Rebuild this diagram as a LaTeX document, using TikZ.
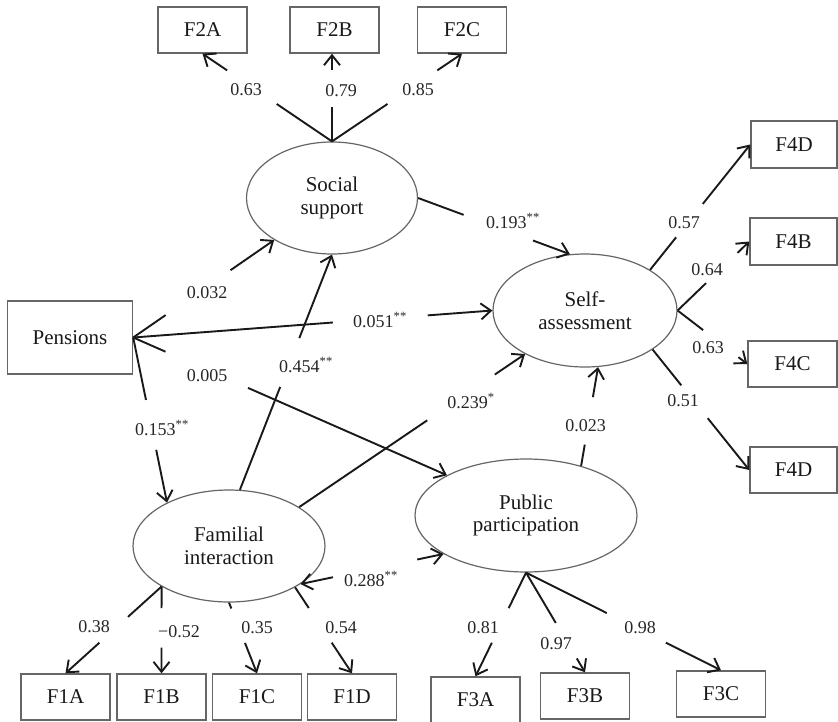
\documentclass[tikz,border=0pt]{standalone}
\usepackage{fontspec}
\setmainfont{Liberation Serif}
\usetikzlibrary{shapes.geometric,arrows.meta,calc}
\newcommand{\gapconn}[4]{%
  \draw[edge] (#1) -- ($(#1)!#3!(#2)$);
  \draw[edge,arr] ($(#1)!#4!(#2)$) -- (#2);}
\begin{document}
\begin{tikzpicture}[x=1pt,y=-1pt,
  box/.style={draw=black!60, line width=1.4pt, rectangle, minimum width=89pt, minimum height=46pt, inner sep=0pt, font=\fontsize{21}{23}\selectfont, text=black!90},
  latent/.style={draw=black!60, line width=1.2pt, ellipse, inner sep=0pt, align=center, font=\fontsize{21}{22.5}\selectfont, text=black!90},
  edge/.style={line width=1.9pt, draw=black!90},
  arr/.style={-{Straight Barb[length=10pt,width=16pt]}},
  arrback/.style={{Straight Barb[length=10pt,width=16pt]}-},
  lab/.style={font=\fontsize{18}{20}\selectfont, text=black!85, inner sep=0pt, anchor=base}]
\fill[white] (0,0) rectangle (838,721);
\useasboundingbox (0,0) rectangle (838,721);
% indicator boxes
\node[box] (f2a) at (202.5,30) {F2A};
\node[box] (f2b) at (334.5,30) {F2B};
\node[box] (f2c) at (462,30) {F2C};
\node[box, minimum width=125pt, minimum height=73pt] (pens) at (70,337.5) {Pensions};
\node[box, minimum width=86pt, minimum height=47pt] (f4d1) at (794,144.5) {F4D};
\node[box, minimum width=87pt, minimum height=47pt] (f4b) at (793.5,241.5) {F4B};
\node[box, minimum width=89pt, minimum height=46pt] (f4c) at (792.5,364) {F4C};
\node[box, minimum width=87pt, minimum height=46pt] (f4d2) at (793.5,470) {F4D};
\node[box] (f1a) at (65.5,697) {F1A};
\node[box] (f1b) at (161.5,697) {F1B};
\node[box] (f1c) at (257,697) {F1C};
\node[box] (f1d) at (352,697) {F1D};
\node[box] (f3a) at (475.5,700) {F3A};
\node[box] (f3b) at (585,696) {F3B};
\node[box] (f3c) at (721,694) {F3C};
% latent variables
\node[latent, minimum width=171pt, minimum height=112pt] (ss) at (332,198) {Social\\support};
\node[latent, minimum width=184pt, minimum height=113pt] (sa) at (585,310.5) {Self-\\assessment};
\node[latent, minimum width=222pt, minimum height=113pt] (pp) at (526,515.5) {Public\\participation};
\node[latent, minimum width=192pt, minimum height=112pt] (fam) at (229,546) {Familial\\interaction};
\coordinate (f2bs) at (ss.north |- f2b.south);
% connectors
\gapconn{ss.north}{f2a.south}{0.427}{0.81}
\gapconn{ss.north}{f2bs}{0.39}{0.81}
\gapconn{ss.north}{f2c.south}{0.427}{0.81}
\gapconn{pens.east}{ss.216}{0.23}{0.69}
\gapconn{pens.east}{sa.west}{0.556}{0.82}
\gapconn{pens.east}{pp.153}{0.103}{0.366}
\gapconn{pens.east}{fam.145}{0.378}{0.68}
\gapconn{ss.east}{sa.105}{0.30}{0.757}
\gapconn{fam.79}{ss.south}{0.437}{0.645}
\gapconn{fam.29}{sa.216}{0.567}{0.866}
\gapconn{pp.42}{sa.283}{0.215}{0.695}
\draw[edge,arrback] (fam.332) -- ($(fam.332)!0.227!(pp.205)$);
\draw[edge,arr] ($(fam.332)!0.816!(pp.205)$) -- (pp.205);
\gapconn{sa.32}{f4d1.west}{0.26}{0.526}
\gapconn{sa.east}{f4b.west}{0.397}{0.836}
\gapconn{sa.east}{f4c.west}{0.366}{0.873}
\gapconn{sa.330}{f4d2.west}{0.297}{0.57}
\gapconn{fam.211}{f1a.north}{0.35}{0.647}
\gapconn{fam.211}{f1b.north}{0.248}{0.704}
\gapconn{fam.south}{f1c.north}{0.083}{0.57}
\gapconn{fam.328}{f1d.north}{0.241}{0.644}
\gapconn{pp.south}{f3a.north}{0.343}{0.676}
\gapconn{pp.south}{f3b.north}{0.505}{0.861}
\gapconn{pp.south}{f3c.north}{0.414}{0.717}
% labels
\node[lab] (l1) at (246,95) {0.63};
\node[lab] (l2) at (341,96) {0.79};
\node[lab] (l3) at (418,95) {0.85};
\node[lab] (l4) at (207,298) {0.032};
\node[lab] (l5) at (380,327) {0.051\textsuperscript{**}};
\node[lab] (l6) at (207,381) {0.005};
\node[lab] (l7) at (162,435) {0.153\textsuperscript{**}};
\node[lab] (l8) at (513,228) {0.193\textsuperscript{**}};
\node[lab] (l9) at (306,372) {0.454\textsuperscript{**}};
\node[lab] (l10) at (471,408) {0.239\textsuperscript{*}};
\node[lab] (l11) at (585.5,431) {0.023};
\node[lab] (l12) at (371,586) {0.288\textsuperscript{**}};
\node[lab] (l13) at (684,228) {0.57};
\node[lab] (l14) at (707,275) {0.64};
\node[lab] (l15) at (708,353) {0.63};
\node[lab] (l16) at (683,406) {0.51};
\node[lab] (l17) at (94,632) {0.38};
\node[lab] (l18) at (179,637) {−0.52};
\node[lab] (l19) at (257,633) {0.35};
\node[lab] (l20) at (341,633) {0.54};
\node[lab] (l21) at (483,633) {0.81};
\node[lab] (l22) at (556,649) {0.97};
\node[lab] (l23) at (640,633) {0.98};
\end{tikzpicture}
\end{document}
